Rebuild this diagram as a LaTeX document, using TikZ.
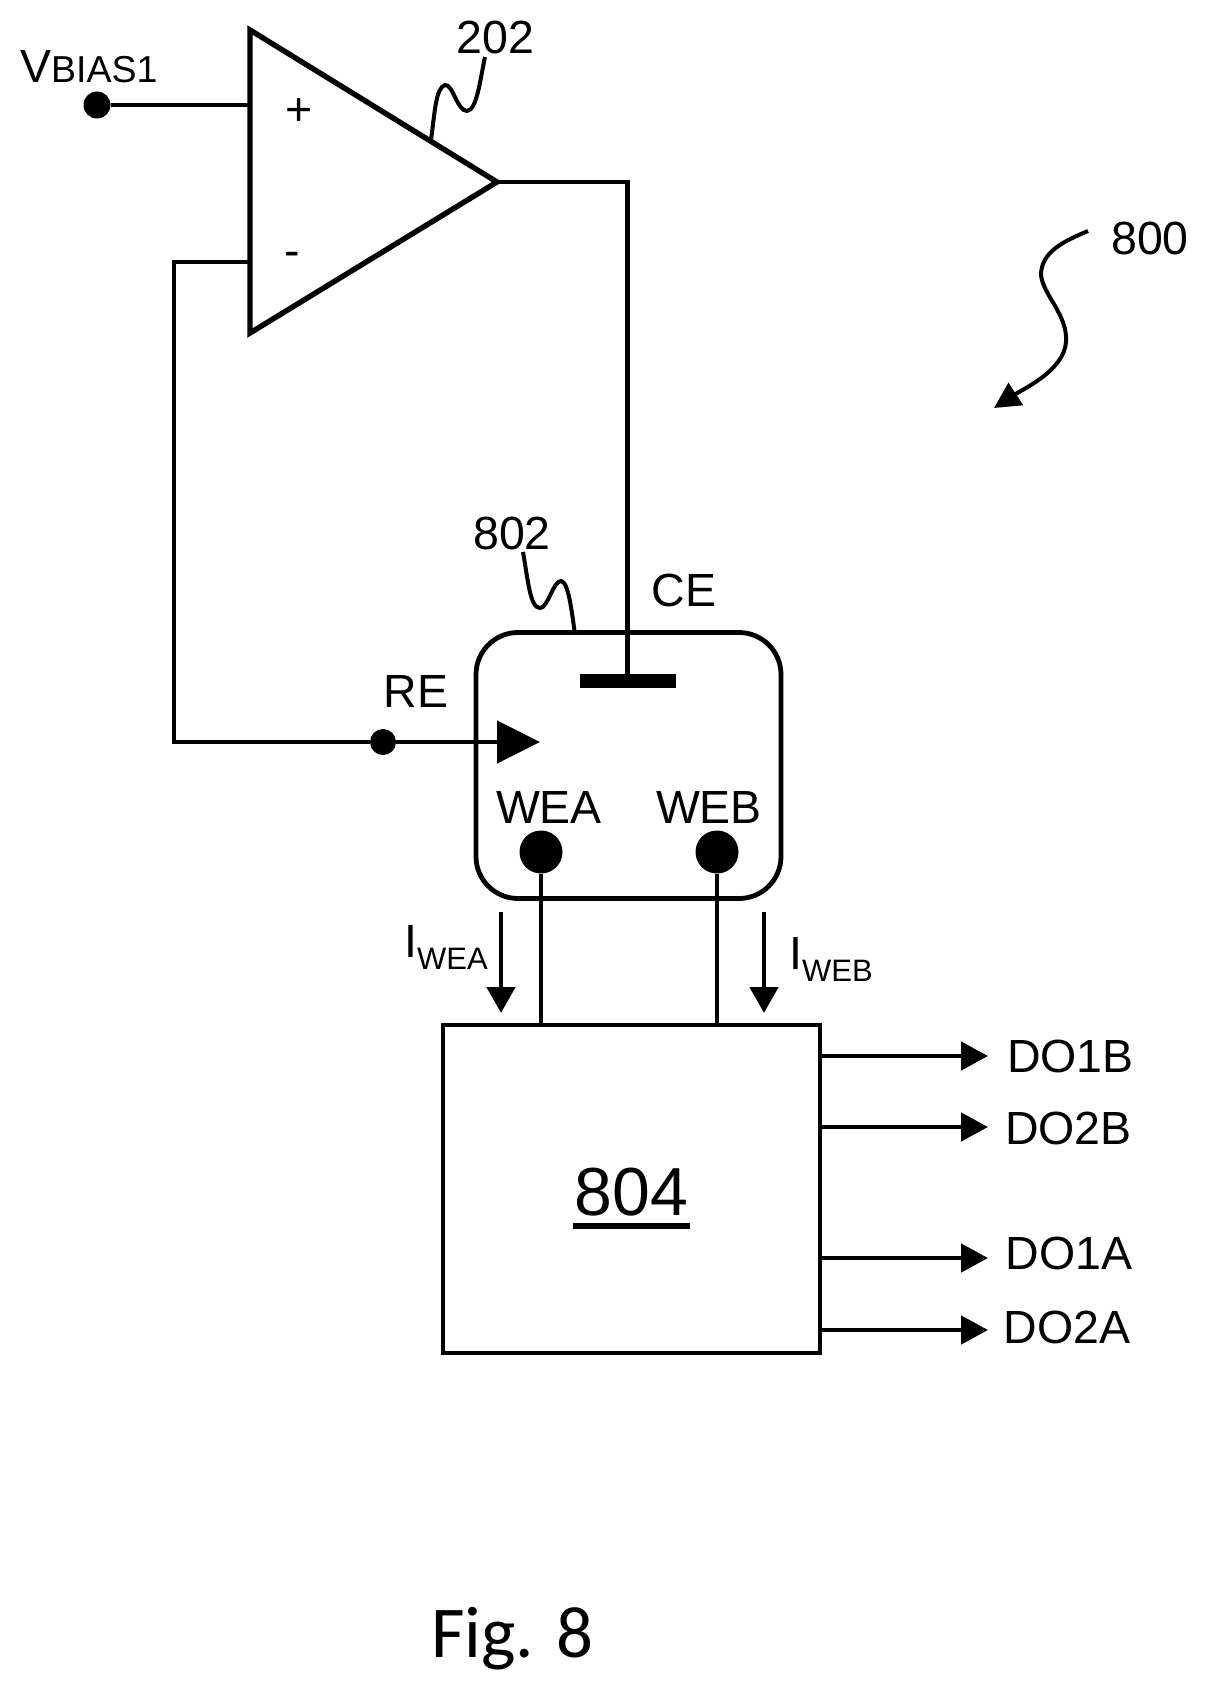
\documentclass[tikz,border=0pt]{standalone}
\usepackage{fontspec}
\setmainfont{Liberation Sans}
\newfontfamily\figfont{Carlito}
\usetikzlibrary{arrows.meta,positioning,calc}
\tikzset{
  wire/.style={line width=4.8pt},
  lead/.style={line width=4pt},
  dot/.style={circle,fill=black,inner sep=0pt,minimum size=#1},
  txt/.style={inner sep=0pt,anchor=base,font=\fontsize{46.5}{46.5}\selectfont},
  outarrow/.style={wire,-{Triangle[length=27pt,width=28pt]}},
  curarrow/.style={wire,-{Triangle[length=26pt,width=28pt]}}
}
\begin{document}
\begin{tikzpicture}[x=1pt,y=-1pt,>=stealth]
    \useasboundingbox (0,0) rectangle (1206,1683);
    % amplifier
    \coordinate (ampT) at (250,30);
    \coordinate (ampB) at (250,333);
    \coordinate (ampO) at (497,182);
    \draw[wire,line width=5.4pt,line join=miter] (ampT) -- (ampO) -- (ampB) -- cycle;
    \node[txt] (plus) at (299,125) {+};
    \node[txt] (minus) at (292,266) {-};
    \coordinate (ampP) at (250,105);
    \coordinate (ampN) at (250,262);
    % bias input
    \node[dot=27pt] (vbias) at (97,105) {};
    \node[txt,anchor=base west] (vbiaslab) at (20,83) {V{\fontsize{37.5}{37.5}\selectfont BIAS1}};
    \draw[wire] (vbias) -- (ampP);
    % cell
    \node[draw,wire,rounded corners=42pt,minimum width=305pt,minimum height=266pt,inner sep=0pt] (cell) at (628.5,765.5) {};
    \node[fill=black,inner sep=0pt,minimum width=96pt,minimum height=14pt] (plate) at (627.5,681) {};
    \node[txt] (celab) at (684,606) {CE};
    \node[txt] (relab) at (416,707) {RE};
    \node[dot=26pt] (redot) at (383,742) {};
    \coordinate (retip) at (540,742);
    \node[dot=43pt] (wea) at (541,852) {};
    \node[dot=43pt] (web) at (717,852) {};
    \node[txt] (wealab) at (549,823) {WEA};
    \node[txt] (weblab) at (709,823) {WEB};
    % output of amplifier and feedback
    \draw[wire] (ampO) -| (plate.north);
    \draw[wire] (ampN) -| (174,742) -- (redot);
    \draw[wire,-{Triangle[length=43pt,width=42pt]}] (redot) -- (retip);
    % block
    \node[draw,wire,minimum width=377pt,minimum height=328pt,inner sep=0pt] (block) at (631.5,1189) {};
    \node[txt,font=\fontsize{68}{68}\selectfont,inner xsep=2pt] (blocklab) at (631.5,1215) {804};
    \draw[line width=5.4pt] ([yshift=-10pt]blocklab.south west) -- ([yshift=-10pt]blocklab.south east);
    \draw[wire] (wea) -- (wea |- block.north);
    \draw[wire] (web) -- (web |- block.north);
    % currents
    \coordinate (iaS) at (501,912);
    \coordinate (iaE) at (501,1013);
    \coordinate (ibS) at (764,912);
    \coordinate (ibE) at (764,1013);
    \draw[curarrow] (iaS) -- (iaE);
    \draw[curarrow] (ibS) -- (ibE);
    \node[txt,anchor=base west] (ialab) at (404,957) {I\raisebox{-12pt}{\fontsize{31}{31}\selectfont WEA}};
    \node[txt,anchor=base west] (iblab) at (789,969) {I\raisebox{-12pt}{\fontsize{31}{31}\selectfont WEB}};
    % outputs
    \foreach \n/\t/\yy/\xx/\bb in {a/DO1B/1056/1007/1072,b/DO2B/1127/1005/1144,c/DO1A/1258/1005.5/1269,d/DO2A/1330/1003.5/1343} {
      \coordinate (tip\n) at (988,\yy);
      \node[txt,anchor=base west] (out\n) at (\xx,\bb) {\t};
      \draw[outarrow] (tip\n -| block.east) -- (tip\n);
    }
    % reference numerals
    \node[txt] (r202) at (495.5,54) {202};
    \node[txt] (r802) at (512,549) {802};
    \node[txt] (r800) at (1150,254.5) {800};
    \draw[lead] (431,140) .. controls (435,110) and (436,88) .. (445,85) .. controls (453,84) and (457,111) .. (467,111) .. controls (477,110) and (480,80) .. (485,57);
    \draw[lead] (523,552) .. controls (528,580) and (530,608) .. (540,608) .. controls (548,608) and (553,581) .. (561,581) .. controls (569,582) and (572,615) .. (575,634);
    \draw[lead,-{Triangle[length=26pt,width=26pt]}] (1088,231) .. controls (1064,241) and (1041,252) .. (1041,275) .. controls (1043,295) and (1068,315) .. (1066,342) .. controls (1064,370) and (1025,388) .. (994,408);
    \node[txt,anchor=base west,font=\fontsize{73}{73}\selectfont\figfont] (figlab) at (431,1657) {Fig. 8};
\end{tikzpicture}
\end{document}
